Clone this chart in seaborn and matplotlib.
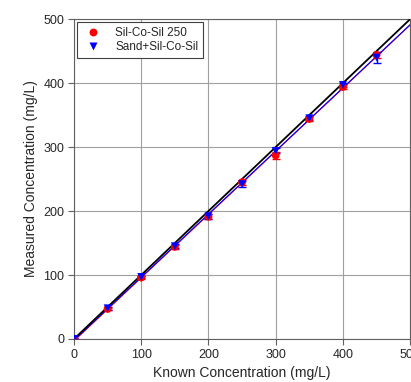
import numpy as np
import matplotlib.pyplot as plt
import seaborn as sns
import pandas as pd

# Data
known = [0, 50, 100, 150, 200, 250, 300, 350, 400, 450]
silcosil = [0, 47, 96, 144, 191, 245, 287, 344, 394, 444]
silcosil_err = [2, 2, 2, 3, 4, 4, 6, 3, 3, 5]
sand = [0, 48, 97, 145, 192, 242, 294, 345, 397, 440]
sand_err = [2, 2, 2, 3, 4, 5, 4, 3, 3, 8]

df = pd.DataFrame({'known': known * 2,
                   'measured': silcosil + sand,
                   'err': silcosil_err + sand_err,
                   'series': ['Sil-Co-Sil 250'] * 10 + ['Sand+Sil-Co-Sil'] * 10})

sns.set_style('white')
plt.rcParams['font.family'] = ['Liberation Sans', 'DejaVu Sans']

fig = plt.figure(figsize=(4.11, 3.82), dpi=100)
ax = fig.add_axes([0.18, 0.1126, 0.818, 0.8374])

xx = np.array([0, 500])
ax.plot(xx, xx, color='black', lw=1.3, zorder=3)
colors = {'Sil-Co-Sil 250': 'red', 'Sand+Sil-Co-Sil': 'blue'}
for name, c in colors.items():
    d = df[df.series == name]
    k = np.polyfit(d.known, d.measured, 1)
    ax.plot(xx, np.polyval(k, xx), color=c, lw=0.8, zorder=2)
    ax.errorbar(d.known, d.measured, yerr=d.err, fmt='none', ecolor=c,
                elinewidth=1, capsize=3, zorder=4)

sns.scatterplot(data=df, x='known', y='measured', hue='series', style='series',
                palette=colors, markers={'Sil-Co-Sil 250': 'o', 'Sand+Sil-Co-Sil': 'v'},
                s=32, edgecolor='none', ax=ax, zorder=5)

ax.set_xlim(0, 500)
ax.set_ylim(0, 500)
ax.set_xticks(range(0, 501, 100))
ax.set_yticks(range(0, 501, 100))
ax.grid(True, color='#a0a0a0', lw=0.8)
ax.set_axisbelow(True)
for s in ax.spines.values():
    s.set_color('#606060')
    s.set_linewidth(0.8)
ax.tick_params(direction='out', length=4, width=0.8, color='#606060',
               labelsize=9, left=True, bottom=True, pad=3)
ax.set_xlabel('Known Concentration (mg/L)', fontsize=10)
ax.set_ylabel('Measured Concentration (mg/L)', fontsize=10)

leg = ax.legend(loc='upper left', bbox_to_anchor=(0.01, 0.99), borderaxespad=0,
                fontsize=8.5, fancybox=False, edgecolor='#404040', framealpha=1,
                handletextpad=0.9, borderpad=0.4, labelspacing=0.15,
                handlelength=1.9)
leg.get_frame().set_linewidth(0.8)

fig.savefig('out.png', dpi=100)
